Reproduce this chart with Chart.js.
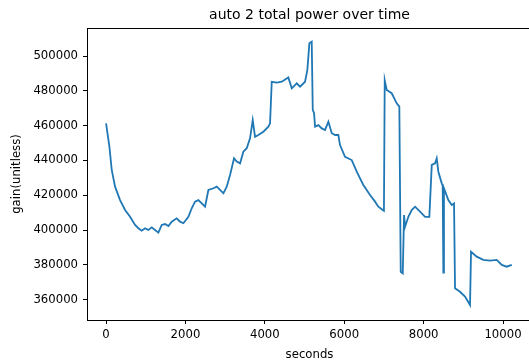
<!DOCTYPE html>
<html>
<head>
<meta charset="utf-8">
<script src="https://cdn.jsdelivr.net/npm/chart.js@4/dist/chart.umd.min.js"></script>
<style>
  html, body { margin: 0; padding: 0; overflow: hidden; background: #fff; }
  #wrap { width: 540px; height: 364px; }
</style>
</head>
<body>
<div id="wrap"><canvas id="powerChart" width="540" height="364"></canvas></div>
<script>
// values
const seconds = [
  0, 84, 143, 227, 353, 479, 605, 731, 814, 898, 983, 1066, 1150, 1234, 1318,
  1402, 1486, 1570, 1654, 1780, 1864, 1948, 2074, 2158, 2242, 2326, 2410, 2494,
  2578, 2704, 2788, 2872, 2956, 3040, 3124, 3224, 3292, 3376, 3459, 3544, 3627,
  3695, 3753, 3837, 3963, 4089, 4131, 4174, 4300, 4426, 4592, 4678, 4804, 4887,
  5013, 5071, 5122, 5181, 5207, 5240, 5265, 5349, 5434, 5517, 5601, 5686, 5769,
  5852, 5894, 6020, 6189, 6315, 6481, 6650, 6776, 6859, 6970, 7000, 7020, 7070,
  7196, 7322, 7388, 7423, 7474, 7507, 7532, 7615, 7700, 7784, 7910, 8036, 8144,
  8205, 8288, 8330, 8371, 8456, 8480, 8497, 8512, 8623, 8708, 8766, 8791, 8917,
  9043, 9169, 9194, 9337, 9504, 9673, 9841, 9968, 10093, 10220
];
const gain = [
  461300, 447900, 434500, 424900, 417200, 411500, 407600, 402900, 401000, 399600,
  401000, 400000, 401500, 400000, 398500, 402900, 403400, 402300, 404800, 406700,
  404800, 403900, 407600, 412500, 416300, 417200, 415300, 413400, 423000, 424000,
  424900, 423000, 421100, 424900, 431600, 441200, 439300, 438300, 445000, 447000,
  452700, 463200, 453600, 454600, 456500, 459400, 461300, 485200, 484700, 485200,
  487700, 481400, 484300, 482400, 485200, 492000, 507300, 508200, 469000, 467100,
  459400, 460300, 458400, 457500, 462200, 455600, 454600, 454600, 448800, 442100,
  440200, 433500, 425900, 420100, 416300, 413400, 411500, 411000, 486000, 480500,
  478600, 472800, 470900, 376000, 375100, 408600, 401900, 407600, 411500, 413400,
  410500, 407600, 407600, 437400, 438300, 441200, 433500, 426800, 425500, 375500,
  424000, 417200, 414400, 415300, 366500, 364500, 361700, 356900, 387500, 384700,
  382800, 382400, 382800, 379900, 378900, 379900
];
const xTicks = [0, 2000, 4000, 6000, 8000, 10000];
const yTicks = [360000, 380000, 400000, 420000, 440000, 460000, 480000, 500000];

const chartTitle = 'auto 2 total power over time';
const fontFamily = '"DejaVu Sans", sans-serif';

// matplotlib style frame + title
const framePlugin = {
  id: 'frame',
  afterDraw(chart) {
    const { ctx, chartArea } = chart;
    ctx.save();
    ctx.strokeStyle = '#000';
    ctx.lineWidth = 1;
    ctx.strokeRect(chartArea.left + 0.5, chartArea.top + 0.5,
      chartArea.right - chartArea.left, chartArea.bottom - chartArea.top);
    ctx.fillStyle = '#000';
    ctx.font = '14px ' + fontFamily;
    ctx.textAlign = 'center';
    ctx.textBaseline = 'alphabetic';
    ctx.fillText(chartTitle, (chartArea.left + chartArea.right) / 2, 18.6);
    ctx.restore();
  }
};

const tickFont = { family: fontFamily, size: 11.7 };

new Chart(document.getElementById('powerChart'), {
  type: 'line',
  data: {
    datasets: [{
      data: seconds.map((s, i) => ({ x: s, y: gain[i] })),
      borderColor: '#1f77b4',
      borderWidth: 1.8,
      pointRadius: 0,
      tension: 0,
      fill: false
    }]
  },
  options: {
    responsive: false,
    animation: false,
    layout: { padding: { top: 28, left: 0, right: 8, bottom: 0 } },
    plugins: {
      legend: { display: false },
      tooltip: { enabled: false },
      title: { display: false }
    },
    scales: {
      x: {
        type: 'linear',
        min: -480,
        max: 10730,
        afterBuildTicks: scale => { scale.ticks = xTicks.map(v => ({ value: v })); },
        afterFit: scale => { scale.height = 44; },
        grid: { drawOnChartArea: false, drawTicks: true, tickLength: 4, tickColor: '#000' },
        border: { color: '#000', width: 1 },
        ticks: { font: tickFont, color: '#000', padding: 4, maxRotation: 0,
          callback: v => String(v) },
        title: { display: true, text: 'seconds', font: tickFont, color: '#000',
          padding: { top: 0, bottom: 2 } }
      },
      y: {
        type: 'linear',
        min: 348276,
        max: 516092,
        afterBuildTicks: scale => { scale.ticks = yTicks.map(v => ({ value: v })); },
        afterFit: scale => { scale.width = 87; },
        grid: { drawOnChartArea: false, drawTicks: true, tickLength: 4, tickColor: '#000' },
        border: { color: '#000', width: 1 },
        ticks: { font: tickFont, color: '#000', padding: 5,
          callback: v => String(v) },
        title: { display: true, text: 'gain(unitless)', font: tickFont, color: '#000',
          padding: { top: 10, bottom: 0 } }
      }
    }
  },
  plugins: [framePlugin]
});
</script>
</body>
</html>
